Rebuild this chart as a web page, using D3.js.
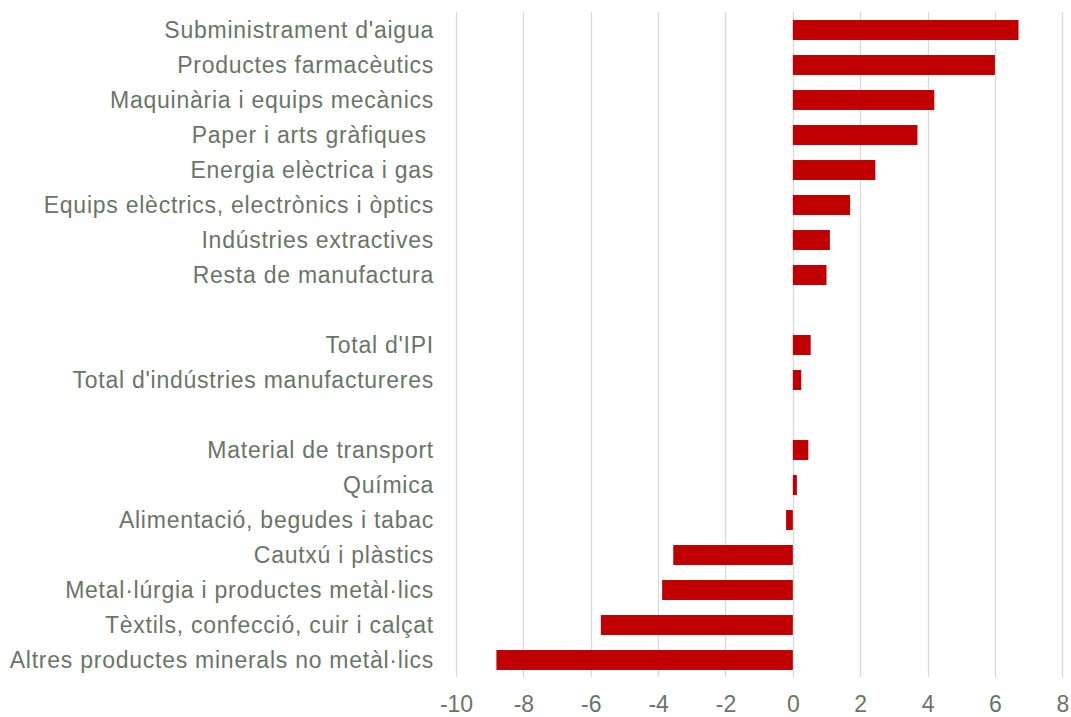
<!DOCTYPE html>
<html>
<head>
<meta charset="utf-8">
<script src="https://cdn.jsdelivr.net/npm/d3@7"></script>
<style>
  html, body { margin: 0; padding: 0; background: #ffffff; }
  svg { display: block; }
  text { font-family: "Liberation Sans", Arial, sans-serif; }
</style>
</head>
<body>
<svg id="chart" width="1071" height="717"></svg>
<script>
// Sectors, top to bottom; empty strings are spacer rows between groups.
const categories = [
  "Subministrament d'aigua",
  "Productes farmacèutics",
  "Maquinària i equips mecànics",
  "Paper i arts gràfiques ",
  "Energia elèctrica i gas",
  "Equips elèctrics, electrònics i òptics",
  "Indústries extractives",
  "Resta de manufactura",
  "",
  "Total d'IPI",
  "Total d'indústries manufactureres",
  "",
  "Material de transport",
  "Química",
  "Alimentació, begudes i tabac",
  "Cautxú i plàstics",
  "Metal·lúrgia i productes metàl·lics",
  "Tèxtils, confecció, cuir i calçat",
  "Altres productes minerals no metàl·lics"
];

// Variation (%) per sector; null for spacer rows.
const values = [
  6.7, 6.0, 4.2, 3.7, 2.45, 1.7, 1.1, 1.0,
  null,
  0.53, 0.25,
  null,
  0.46, 0.12, -0.2, -3.55, -3.88, -5.7, -8.8
];

const xTicks = [-10, -8, -6, -4, -2, 0, 2, 4, 6, 8];

const rows = categories.map((name, i) => ({ key: i, name, value: values[i] }));

const svg = d3.select("#chart");
const textColor = "#697565";
const barColor = "#c00000";
const gridColor = "#d9d9d9";

const x = d3.scaleLinear()
  .domain([-10, 8])
  .range([456, 1062.3]);

const y = d3.scaleBand()
  .domain(rows.map(d => d.key))
  .range([12.5, 677.5])
  .paddingInner(0.43)
  .paddingOuter(0.215);

// Vertical gridlines
svg.append("g")
  .selectAll("line")
  .data(xTicks)
  .join("line")
  .attr("x1", d => Math.round(x(d)) + 0.5)
  .attr("x2", d => Math.round(x(d)) + 0.5)
  .attr("y1", 12)
  .attr("y2", 677)
  .attr("stroke", gridColor)
  .attr("stroke-width", 1.3);

// Bars
svg.append("g")
  .selectAll("rect")
  .data(rows.filter(d => d.value !== null))
  .join("rect")
  .attr("x", d => x(Math.min(0, d.value)))
  .attr("width", d => Math.abs(x(d.value) - x(0)))
  .attr("y", d => y(d.key))
  .attr("height", y.bandwidth())
  .attr("fill", barColor);

// Bottom axis labels
const xAxis = d3.axisBottom(x)
  .tickValues(xTicks)
  .tickSize(0)
  .tickPadding(0);

const gx = svg.append("g")
  .call(xAxis);
gx.select(".domain").remove();
gx.selectAll("text")
  .attr("fill", textColor)
  .attr("font-size", 23)
  .attr("y", 712)
  .attr("dy", 0)
  .text(d => d < 0 ? "-" + Math.abs(d) : String(d));

// Category labels
svg.append("g")
  .selectAll("text")
  .data(rows.filter(d => d.name !== ""))
  .join("text")
  .attr("x", 434)
  .attr("y", d => y(d.key) + y.bandwidth() / 2)
  .attr("dy", "0.36em")
  .attr("text-anchor", "end")
  .attr("fill", textColor)
  .attr("font-size", 23)
  .attr("letter-spacing", 0.75)
  .style("white-space", "pre")
  .text(d => d.name);
</script>
</body>
</html>
